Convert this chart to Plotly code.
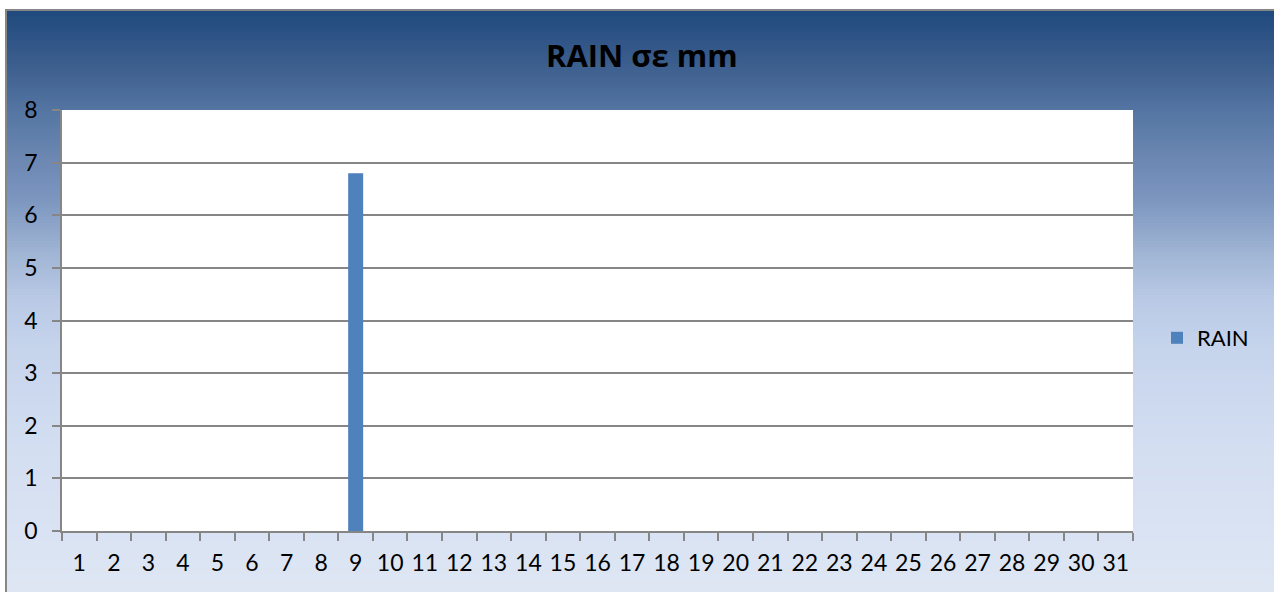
import numpy as np
import plotly.graph_objects as go

days = [str(d) for d in range(1, 32)]
rain = [0, 0, 0, 0, 0, 0, 0, 0, 6.8, 0,
        0, 0, 0, 0, 0, 0, 0, 0, 0, 0,
        0, 0, 0, 0, 0, 0, 0, 0, 0, 0, 0]
y_ticks = [0, 1, 2, 3, 4, 5, 6, 7, 8]
title_text = "<b>RAIN σε mm</b>"
series_name = "RAIN"

W, H = 1274, 592
L, R, T, B = 62, 1133, 110, 531
PW, PH = R - L, B - T


def px(x):
    return (x - L) / PW


def py(y):
    return (B - y) / PH


# background gradient (styling)
stops_y = [10, 60, 110, 160, 200, 250, 300, 350, 450, 600]
stops_c = np.array([
    (31, 73, 125), (58, 92, 140), (84, 117, 162), (108, 136, 179),
    (124, 150, 191), (158, 179, 211), (186, 202, 230), (198, 212, 236),
    (211, 222, 241), (223, 231, 244)], dtype=float)

shapes = []
step = 3
for y0 in range(10, 600, step):
    ym = y0 + step / 2
    c = [int(round(np.interp(ym, stops_y, stops_c[:, k]))) for k in range(3)]
    shapes.append(dict(type="rect", xref="paper", yref="paper",
                       x0=px(6), x1=px(1300), y0=py(y0), y1=py(y0 + step + 0.5),
                       fillcolor=f"rgb({c[0]},{c[1]},{c[2]})",
                       line=dict(width=0), layer="below"))
# plot area
shapes.append(dict(type="rect", xref="x domain", yref="y domain",
                   x0=0, x1=1, y0=0, y1=1, fillcolor="white",
                   line=dict(width=0), layer="below"))
# chart border
shapes.append(dict(type="rect", xref="paper", yref="paper",
                   x0=px(6), x1=px(1300), y0=py(10), y1=py(620),
                   fillcolor="rgba(0,0,0,0)",
                   line=dict(color="#868686", width=2), layer="above"))

fig = go.Figure()
fig.add_trace(go.Bar(x=days, y=rain, name=series_name,
                     marker=dict(color="#4f81bd", line=dict(width=0)),
                     showlegend=True))

font_family = "Lato, 'Open Sans', sans-serif"
fig.update_layout(
    width=W, height=H,
    margin=dict(l=L, r=W - R, t=T, b=H - B, pad=0),
    paper_bgcolor="white",
    plot_bgcolor="rgba(0,0,0,0)",
    font=dict(family=font_family, size=23, color="black"),
    bargap=0.566,
    shapes=shapes,
    showlegend=True,
    legend=dict(x=px(1157), y=py(338), xanchor="left", yanchor="middle",
                bgcolor="rgba(0,0,0,0)", font=dict(size=22),
                itemwidth=30),
    annotations=[dict(text=title_text, xref="paper", yref="paper",
                      x=px(642), y=py(55), xanchor="center", yanchor="middle",
                      showarrow=False,
                      font=dict(size=31, family="'Open Sans', sans-serif", color="black"))],
)
fig.update_xaxes(type="category", tickson="boundaries", ticks="outside",
                 ticklen=8, tickcolor="#868686", tickwidth=1.5,
                 showline=True, linecolor="#868686", linewidth=1.5,
                 showgrid=False, tickangle=0, range=[-0.5, 30.5],
                 ticklabelstandoff=11)
fig.update_yaxes(range=[0, 8], tickvals=y_ticks, ticks="outside", ticklen=8,
                 tickcolor="#868686", tickwidth=1.5,
                 showline=True, linecolor="#868686", linewidth=1.5,
                 showgrid=True, gridcolor="#868686", gridwidth=1.5,
                 zeroline=False, ticklabelstandoff=10)

fig.write_html("out.html", config={"displayModeBar": False},
               post_script="document.body.style.margin='0';")
